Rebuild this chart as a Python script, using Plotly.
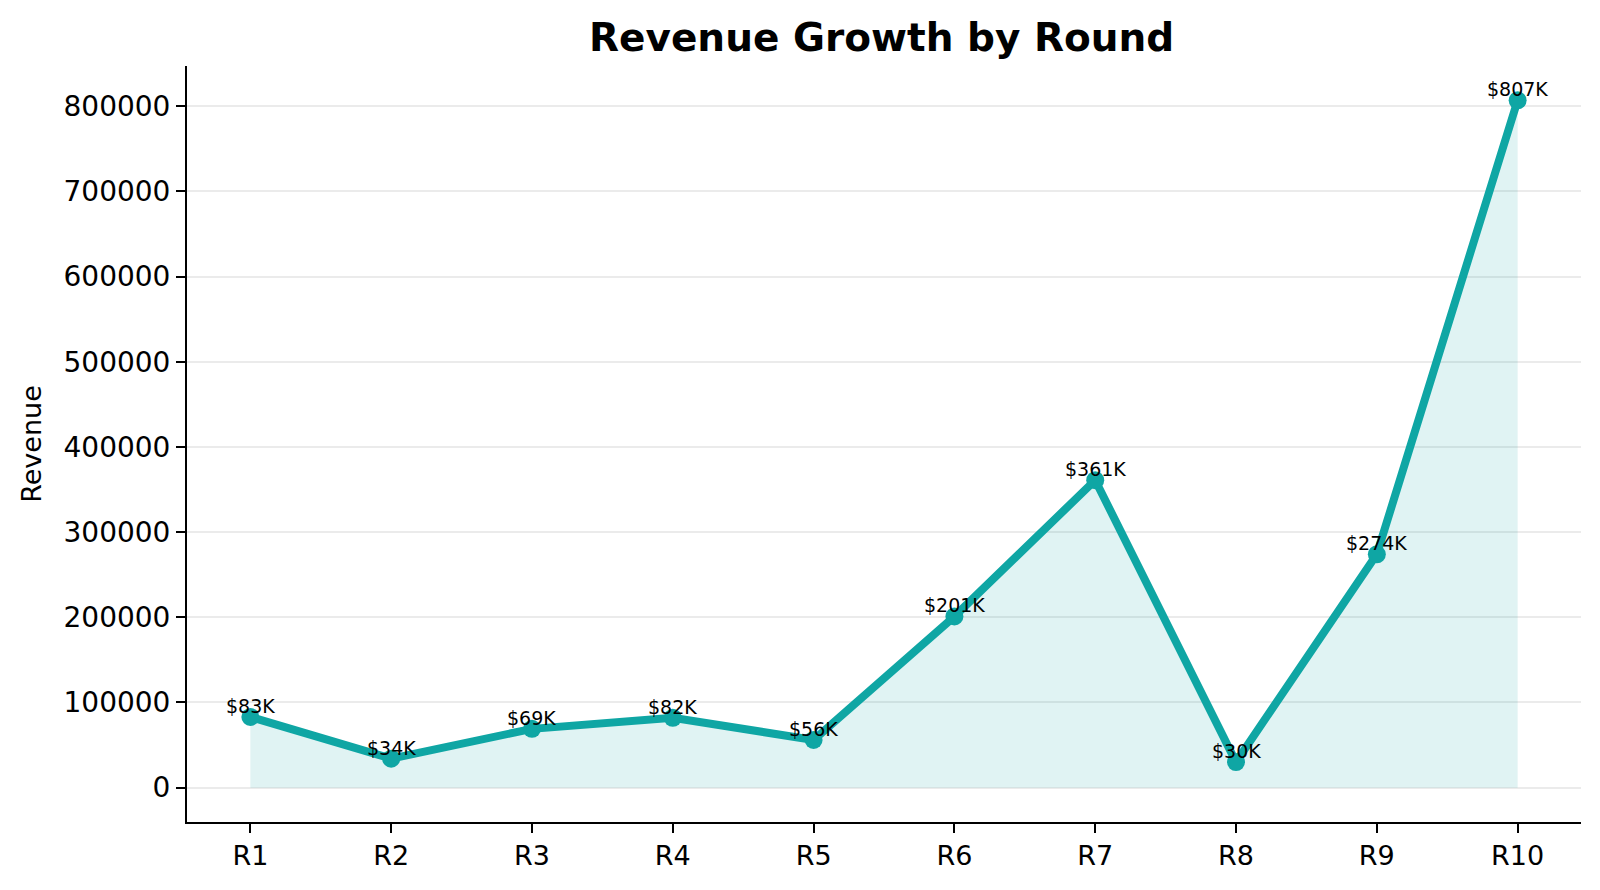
import plotly.graph_objects as go

rounds = ["R1", "R2", "R3", "R4", "R5", "R6", "R7", "R8", "R9", "R10"]
revenue = [83000, 34000, 69000, 82000, 56000, 201000, 361000, 30000, 274000, 807000]
labels = ["$83K", "$34K", "$69K", "$82K", "$56K", "$201K", "$361K", "$30K", "$274K", "$807K"]
y_ticks = [0, 100000, 200000, 300000, 400000, 500000, 600000, 700000, 800000]

TEAL = "#0fa6a4"
FONT = "DejaVu Sans"

fig = go.Figure()
fig.add_trace(go.Scatter(
    x=rounds, y=revenue, mode="lines+markers",
    line=dict(color=TEAL, width=8),
    marker=dict(color=TEAL, size=18),
    fill="tozeroy", fillcolor="rgba(15,166,164,0.13)",
    showlegend=False, cliponaxis=False,
))

for r, v, t in zip(rounds, revenue, labels):
    fig.add_annotation(x=r, y=v, text=t, showarrow=False,
                       yanchor="bottom", xanchor="center", yshift=-2,
                       font=dict(family=FONT, size=19, color="black"))

fig.update_layout(
    width=1600, height=890,
    margin=dict(l=187, r=19, t=66, b=68),
    paper_bgcolor="white", plot_bgcolor="white",
    font=dict(family=FONT, color="black"),
    title=dict(text="<b>Revenue Growth by Round</b>", x=0.551, xanchor="center",
               y=0.958, yanchor="middle",
               font=dict(family=FONT, size=39, color="black")),
)
fig.update_xaxes(
    type="category", range=[-0.45, 9.45],
    showline=True, linecolor="black", linewidth=2,
    ticks="outside", ticklen=9, tickwidth=2, tickcolor="black",
    showgrid=False, zeroline=False,
    tickfont=dict(family=FONT, size=27, color="black"),
)
fig.update_yaxes(
    range=[-40350, 847350], tickvals=y_ticks, ticktext=[str(v) for v in y_ticks],
    showline=True, linecolor="black", linewidth=2,
    ticks="outside", ticklen=9, tickwidth=2, tickcolor="black",
    showgrid=True, gridcolor="#ebebeb", gridwidth=2, zeroline=False,
    tickfont=dict(family=FONT, size=28, color="black"),
    title=dict(text="Revenue", font=dict(family=FONT, size=27, color="black"), standoff=14),
)

fig.write_html("out.html")
